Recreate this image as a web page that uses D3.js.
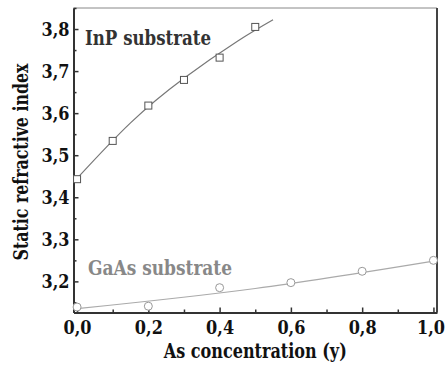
<!DOCTYPE html>
<html>
<head>
<meta charset="utf-8">
<script src="https://cdn.jsdelivr.net/npm/d3@7"></script>
<style>
  body { margin: 0; background: #fff; }
</style>
</head>
<body>
<svg id="chart" width="447" height="372"></svg>
<script>
// InP substrate: measured points
const inpX = [0.0, 0.1, 0.2, 0.3, 0.4, 0.5];
const inpN = [3.443, 3.534, 3.618, 3.679, 3.732, 3.805];
// InP fit curve
const inpFitX = [0.0, 0.15, 0.3, 0.45, 0.55];
const inpFitN = [3.445, 3.577, 3.683, 3.771, 3.822];

// GaAs substrate: measured points
const gaasX = [0.0, 0.2, 0.4, 0.6, 0.8, 1.0];
const gaasN = [3.139, 3.141, 3.185, 3.197, 3.224, 3.250];
// GaAs fit curve
const gaasFitX = [0.0, 0.5, 1.0];
const gaasFitN = [3.135, 3.183, 3.248];

const xTicks = [0.0, 0.2, 0.4, 0.6, 0.8, 1.0];
const yTicks = [3.2, 3.3, 3.4, 3.5, 3.6, 3.7, 3.8];

const serif = "DejaVu Serif";
const margin = { left: 73.5, right: 437, top: 8, bottom: 312.5 };

const x = d3.scaleLinear().domain([-0.01, 1.01]).range([margin.left, margin.right]);
const y = d3.scaleLinear().domain([3.126, 3.85]).range([margin.bottom, margin.top]);

const svg = d3.select("#chart");
const fmt = d => d3.format(".1f")(d).replace(".", ",");

// frame: top and right
svg.append("line").attr("x1", margin.left).attr("x2", margin.right)
  .attr("y1", margin.top).attr("y2", margin.top)
  .attr("stroke", "#888").attr("stroke-width", 1);
svg.append("line").attr("x1", margin.right).attr("x2", margin.right)
  .attr("y1", margin.top).attr("y2", margin.bottom)
  .attr("stroke", "#444").attr("stroke-width", 2);

// x axis (ticks pointing inwards)
const xAxis = svg.append("g").attr("transform", `translate(0,${margin.bottom})`)
  .call(d3.axisBottom(x).tickValues(xTicks).tickSizeInner(-5).tickSizeOuter(0).tickFormat(fmt));
xAxis.selectAll("text").attr("y", 8).attr("dy", "0.71em");
// keep the last label inside the window
xAxis.selectAll("text").filter(d => d === 1.0).attr("x", -3);
svg.append("g").attr("transform", `translate(0,${margin.bottom})`)
  .call(d3.axisBottom(x).tickValues([0.1, 0.3, 0.5, 0.7, 0.9]).tickSize(-3).tickFormat(""))
  .select(".domain").remove();

// y axis
const yAxis = svg.append("g").attr("transform", `translate(${margin.left},0)`)
  .call(d3.axisLeft(y).tickValues(yTicks).tickSizeInner(-5).tickSizeOuter(0).tickFormat(fmt));
yAxis.selectAll("text").attr("x", -4);
svg.append("g").attr("transform", `translate(${margin.left},0)`)
  .call(d3.axisLeft(y).tickValues([3.15, 3.25, 3.35, 3.45, 3.55, 3.65, 3.75, 3.85]).tickSize(-3).tickFormat(""))
  .select(".domain").remove();

svg.selectAll(".tick text")
  .style("font-family", serif).style("font-size", "19px").style("font-weight", "bold")
  .attr("fill", "#111").attr("textLength", 28).attr("lengthAdjust", "spacingAndGlyphs");
svg.selectAll(".domain").attr("stroke", "#333").attr("stroke-width", 2);
svg.selectAll(".tick line").attr("stroke", "#333").attr("stroke-width", 1.5);

// fit lines
const line = d3.line().x(d => x(d[0])).y(d => y(d[1])).curve(d3.curveNatural);
svg.append("path").datum(d3.zip(inpFitX, inpFitN)).attr("d", line)
  .attr("fill", "none").attr("stroke", "#777").attr("stroke-width", 1.2);
svg.append("path").datum(d3.zip(gaasFitX, gaasFitN)).attr("d", line)
  .attr("fill", "none").attr("stroke", "#aaa").attr("stroke-width", 1.2);

// markers
svg.selectAll(".sq").data(d3.zip(inpX, inpN)).enter().append("rect")
  .attr("x", d => x(d[0]) - 3.5).attr("y", d => y(d[1]) - 3.5)
  .attr("width", 7).attr("height", 7)
  .attr("fill", "#fff").attr("stroke", "#555").attr("stroke-width", 1);
svg.selectAll(".ci").data(d3.zip(gaasX, gaasN)).enter().append("circle")
  .attr("cx", d => x(d[0])).attr("cy", d => y(d[1])).attr("r", 4)
  .attr("fill", "#fff").attr("stroke", "#999").attr("stroke-width", 1);

// labels
const label = (xp, yp, size, color, str, len) => svg.append("text")
  .attr("x", xp).attr("y", yp)
  .style("font-family", serif).style("font-weight", "bold").style("font-size", size + "px")
  .attr("fill", color).attr("textLength", len).attr("lengthAdjust", "spacingAndGlyphs")
  .text(str);

label(85, 45, 20, "#333", "InP substrate", 126);
label(88, 275, 20, "#888", "GaAs substrate", 144);
label((margin.left + margin.right) / 2, 358, 20, "#111", "As concentration (y)", 183)
  .attr("text-anchor", "middle");
label(0, 0, 20, "#111", "Static refractive index", 197)
  .attr("transform", "translate(28,162) rotate(-90)").attr("text-anchor", "middle");
</script>
</body>
</html>
